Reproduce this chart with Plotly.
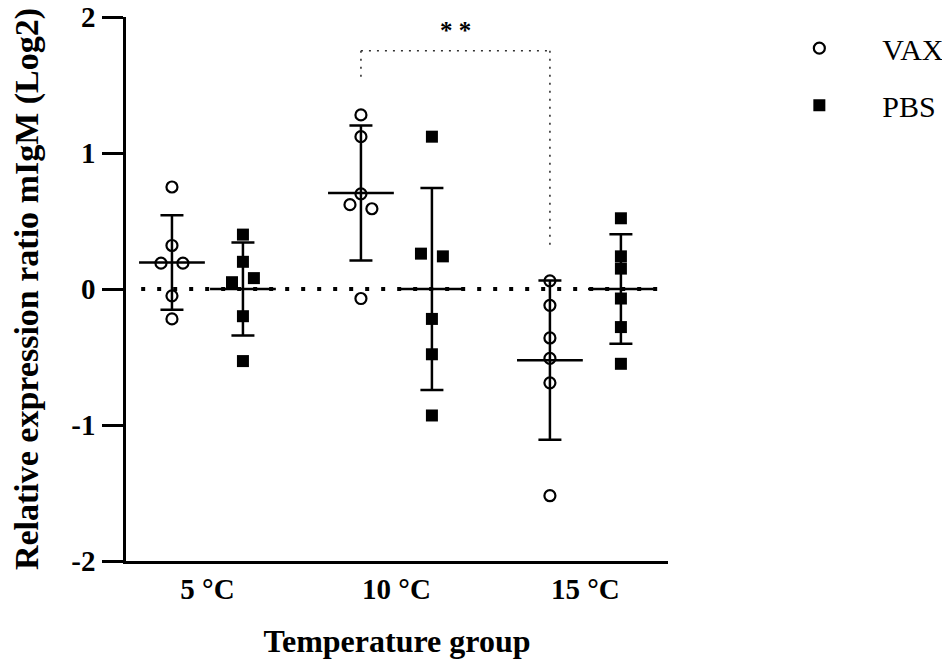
import plotly.graph_objects as go

# ---------------- data ----------------
groups = ["5 °C", "10 °C", "15 °C"]

vax_5 = [0.75, 0.32, 0.19, 0.19, -0.05, -0.22]
vax_10 = [1.28, 1.12, 0.70, 0.62, 0.59, -0.07]
vax_15 = [0.06, -0.12, -0.36, -0.51, -0.69, -1.52]

pbs_5 = [0.40, 0.20, 0.05, 0.08, -0.20, -0.53]
pbs_10 = [1.12, 0.26, 0.24, -0.22, -0.48, -0.93]
pbs_15 = [0.52, 0.24, 0.15, -0.07, -0.28, -0.55]

vax_mean = [0.195, 0.706, -0.523]
vax_sd = [0.347, 0.496, 0.585]
pbs_mean = [0.0, 0.0, 0.0]
pbs_sd = [0.342, 0.742, 0.403]

# significance bracket (10 °C VAX vs 15 °C VAX)
sig_label = "* *"
bracket_top = 1.752
bracket_left_end = 1.53
bracket_right_end = 0.32

# ---------------- layout helpers ----------------
OFF = 0.1878          # half distance between VAX and PBS columns (x units)
J = 0.058             # horizontal nudge for overlapping points
vax_jit = [[0, 0, -J, J, 0, 0], [0, 0, 0, -J, J, 0], [0, 0, 0, 0, 0, 0]]
pbs_jit = [[0, 0, -J, J, 0, 0], [0, -J, J, 0, 0, 0], [0, 0, 0, 0, 0, 0]]

vax_all = [vax_5, vax_10, vax_15]
pbs_all = [pbs_5, pbs_10, pbs_15]

SERIF = "Liberation Serif"

def xs(series, jit, sign):
    out, ys = [], []
    for gi, (vals, js) in enumerate(zip(series, jit)):
        for v, j in zip(vals, js):
            out.append(gi + sign * OFF + j)
            ys.append(v)
    return out, ys

vx, vy = xs(vax_all, vax_jit, -1)
px_, py_ = xs(pbs_all, pbs_jit, +1)

fig = go.Figure()

# mean + SD for each column
for means, sds, sign in [(vax_mean, vax_sd, -1), (pbs_mean, pbs_sd, +1)]:
    fig.add_trace(go.Scatter(
        x=[i + sign * OFF for i in range(len(groups))], y=means,
        mode="markers",
        marker=dict(symbol="line-ew", size=47, color="black",
                    line=dict(color="black", width=2.5)),
        error_y=dict(type="data", array=sds, visible=True,
                     color="black", thickness=2.5, width=11.5),
        showlegend=False, hoverinfo="skip"))

fig.add_trace(go.Scatter(
    x=vx, y=vy, mode="markers", name="VAX", legendgroup="vax",
    marker=dict(symbol="circle-open", size=11, color="black",
                line=dict(color="black", width=2.2))))

fig.add_trace(go.Scatter(
    x=px_, y=py_, mode="markers", name="PBS", legendgroup="pbs",
    marker=dict(symbol="square", size=12, color="black",
                line=dict(width=0))))

# zero reference line
fig.add_shape(type="line", xref="x domain", yref="y",
              x0=0.028, x1=0.993, y0=0, y1=0,
              line=dict(color="black", width=4, dash="4px,12px"), layer="below")

# significance bracket
xa = 1 - OFF
xb = 2 - OFF
br = dict(color="#333333", width=1.6, dash="2px,6px")
fig.add_shape(type="line", x0=xa, x1=xb, y0=bracket_top, y1=bracket_top, line=br)
fig.add_shape(type="line", x0=xa, x1=xa, y0=bracket_top, y1=bracket_left_end, line=br)
fig.add_shape(type="line", x0=xb, x1=xb, y0=bracket_top, y1=bracket_right_end, line=br)
fig.add_annotation(x=(xa + xb) / 2, y=bracket_top, yanchor="bottom", text=sig_label,
                   showarrow=False, yshift=5,
                   font=dict(family=SERIF, size=25, color="black", weight="bold"))

# page has an 8px body margin, so the figure is 8px smaller and margins shifted
fig.update_layout(
    width=942, height=651,
    margin=dict(l=118, r=282, t=9, b=98, autoexpand=False),
    plot_bgcolor="white", paper_bgcolor="white",
    font=dict(family=SERIF, color="black"),
    legend=dict(x=1.163, xanchor="left", y=0.9905, yanchor="top",
                font=dict(family=SERIF, size=30, color="black"),
                itemwidth=116, tracegroupgap=15, bgcolor="rgba(0,0,0,0)"),
    xaxis=dict(range=[-0.431, 2.437], tickvals=[0, 1, 2], ticktext=groups,
               automargin=False,
               showgrid=False, zeroline=False, showline=True,
               linecolor="black", linewidth=2.5,
               ticks="outside", ticklen=0, tickcolor="rgba(0,0,0,0)",
               ticklabeloverflow="allow",
               tickfont=dict(family=SERIF, size=29, color="black", weight="bold"),
               title=dict(text="Temperature group", standoff=32,
                          font=dict(family=SERIF, size=32, color="black", weight="bold"))),
    yaxis=dict(range=[-2, 2], tickvals=[-2, -1, 0, 1, 2],
               ticktext=["-2", "-1", "0", "1", "2"],
               automargin=False,
               showgrid=False, zeroline=False, showline=True,
               linecolor="black", linewidth=2.5,
               ticks="outside", ticklen=21, tickwidth=2.5, tickcolor="black",
               ticklabelstandoff=1, ticklabeloverflow="allow",
               tickfont=dict(family=SERIF, size=29, color="black", weight="bold"),
               title=dict(text="Relative expression ratio mIgM (Log2)", standoff=26,
                          font=dict(family=SERIF, size=34, color="black", weight="bold"))),
)

fig.write_html("out.html")
